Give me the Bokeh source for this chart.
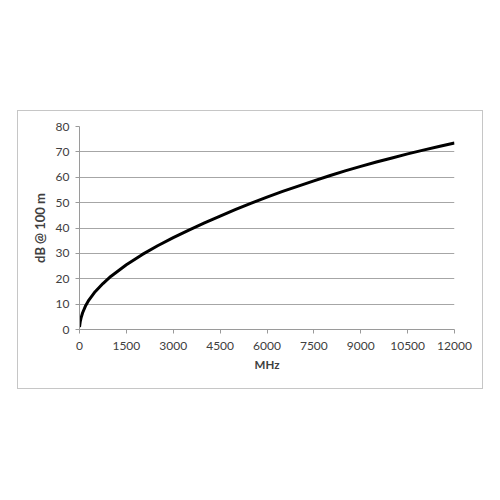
from bokeh.plotting import figure
from bokeh.models import Range1d, FixedTicker
from bokeh.embed import file_html
from bokeh.resources import INLINE

freq_mhz = [0, 25, 50, 100, 200, 300, 500, 750, 1000, 1500, 2000, 2500, 3000, 3500, 4000,
            4500, 5000, 5500, 6000, 6500, 7000, 7500, 8000, 8500, 9000, 9500,
            10000, 10500, 11000, 11500, 12000]
atten_db = [1.0, 3.2, 4.6, 6.6, 9.5, 11.6, 14.9, 18.1, 20.9, 25.5, 29.5, 33.0, 36.2, 39.2, 42.0,
            44.7, 47.3, 49.8, 52.2, 54.4, 56.5, 58.6, 60.6, 62.5, 64.3, 66.0,
            67.6, 69.2, 70.7, 72.1, 73.5]
x_ticks = [0, 1500, 3000, 4500, 6000, 7500, 9000, 10500, 12000]
y_ticks = [0, 10, 20, 30, 40, 50, 60, 70, 80]

p = figure(width=466, height=279, output_backend="svg", toolbar_location=None,
           x_range=Range1d(0, 12000), y_range=Range1d(0, 80),
           min_border_left=61, min_border_right=30, min_border_top=15, min_border_bottom=61)
p.margin = (110, 0, 0, 17)
p.styles = {"border": "1px solid #c6c6c6", "box-sizing": "border-box"}
p.outline_line_color = None
p.background_fill_color = "white"

p.line(freq_mhz, atten_db, line_color="black", line_width=3, line_join="round")

font = "Lato"
for ax in (p.xaxis[0], p.yaxis[0]):
    ax.axis_line_color = "#9a9a9a"
    ax.major_tick_line_color = "#9a9a9a"
    ax.minor_tick_line_color = None
    ax.major_tick_in = 0
    ax.major_tick_out = 4
    ax.major_label_text_font = font
    ax.major_label_text_font_size = "12px"
    ax.major_label_text_color = "#404040"
    ax.axis_label_text_font = font
    ax.axis_label_text_font_style = "bold"
    ax.axis_label_text_color = "#404040"

p.xaxis.axis_label_text_font_size = "11.5px"
p.yaxis.axis_label_text_font_size = "13px"
p.xaxis.ticker = FixedTicker(ticks=x_ticks)
p.yaxis.ticker = FixedTicker(ticks=y_ticks)
p.xaxis.axis_label = "MHz"
p.yaxis.axis_label = "dB @ 100 m"
p.xaxis.axis_label_standoff = 5
p.yaxis.axis_label_standoff = 5
p.xaxis.major_label_standoff = 8
p.yaxis.major_label_standoff = 6

p.xgrid.grid_line_color = None
p.ygrid.grid_line_color = "#a6a6a6"
p.ygrid.grid_line_width = 1

open("out.html", "w").write(file_html(p, INLINE))
